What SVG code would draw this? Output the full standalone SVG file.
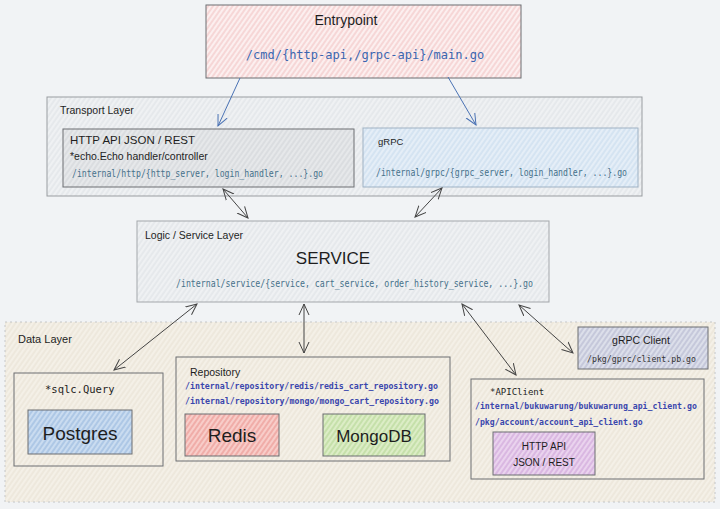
<svg xmlns="http://www.w3.org/2000/svg" width="720" height="509" viewBox="0 0 720 509">
<defs>
<pattern id="hPink" width="4" height="4" patternUnits="userSpaceOnUse" patternTransform="rotate(-55)"><rect width="4" height="4" fill="#fcefef"/><line x1="0" y1="2" x2="4" y2="2" stroke="#eeb2b2" stroke-width="0.8"/></pattern>
<pattern id="hGray" width="4" height="4" patternUnits="userSpaceOnUse" patternTransform="rotate(-55)"><rect width="4" height="4" fill="#eff1f3"/><line x1="0" y1="2" x2="4" y2="2" stroke="#d8dbe0" stroke-width="0.8"/></pattern>
<pattern id="hDark" width="4" height="4" patternUnits="userSpaceOnUse" patternTransform="rotate(-55)"><rect width="4" height="4" fill="#e6e8ea"/><line x1="0" y1="2" x2="4" y2="2" stroke="#c9cdd2" stroke-width="0.8"/></pattern>
<pattern id="hBlue" width="4" height="4" patternUnits="userSpaceOnUse" patternTransform="rotate(-55)"><rect width="4" height="4" fill="#e5eef7"/><line x1="0" y1="2" x2="4" y2="2" stroke="#bcd3ea" stroke-width="0.8"/></pattern>
<pattern id="hBeige" width="4" height="4" patternUnits="userSpaceOnUse" patternTransform="rotate(-55)"><rect width="4" height="4" fill="#f4f0e7"/><line x1="0" y1="2" x2="4" y2="2" stroke="#e4dccb" stroke-width="0.8"/></pattern>
<pattern id="hPg" width="4" height="4" patternUnits="userSpaceOnUse" patternTransform="rotate(-55)"><rect width="4" height="4" fill="#cadcf0"/><line x1="0" y1="2" x2="4" y2="2" stroke="#8aaed8" stroke-width="0.9"/></pattern>
<pattern id="hRed" width="4" height="4" patternUnits="userSpaceOnUse" patternTransform="rotate(-55)"><rect width="4" height="4" fill="#f8cdc9"/><line x1="0" y1="2" x2="4" y2="2" stroke="#e68680" stroke-width="0.9"/></pattern>
<pattern id="hGreen" width="4" height="4" patternUnits="userSpaceOnUse" patternTransform="rotate(-55)"><rect width="4" height="4" fill="#dcedc6"/><line x1="0" y1="2" x2="4" y2="2" stroke="#a9d088" stroke-width="0.9"/></pattern>
<pattern id="hSlate" width="4" height="4" patternUnits="userSpaceOnUse" patternTransform="rotate(-55)"><rect width="4" height="4" fill="#dcdfea"/><line x1="0" y1="2" x2="4" y2="2" stroke="#a9adc8" stroke-width="0.9"/></pattern>
<pattern id="hPurple" width="4" height="4" patternUnits="userSpaceOnUse" patternTransform="rotate(-55)"><rect width="4" height="4" fill="#ead3ee"/><line x1="0" y1="2" x2="4" y2="2" stroke="#c695d1" stroke-width="0.9"/></pattern>
<marker id="aBlue" viewBox="0 0 12 12" refX="11" refY="6" markerWidth="12" markerHeight="12" markerUnits="userSpaceOnUse" orient="auto-start-reverse"><path d="M0,1 L11,6 L0,11" fill="none" stroke="#4a72b4" stroke-width="1"/></marker>
<marker id="aDark" viewBox="0 0 12 12" refX="11" refY="6" markerWidth="12" markerHeight="12" markerUnits="userSpaceOnUse" orient="auto-start-reverse"><path d="M0,1 L11,6 L0,11" fill="none" stroke="#444" stroke-width="1"/></marker>
</defs>
<style>
.box{stroke:#6d6f73;stroke-width:1}
.hand{font-family:"Liberation Sans","DejaVu Sans",sans-serif;fill:#1e1e1e}
.mono{font-family:"DejaVu Sans Mono","Liberation Mono",monospace}
.path1{fill:#3b66b0}
.path2{fill:#46718a}
.path3{fill:#3a46ad}
.conn{fill:none;stroke:#444;stroke-width:1}
.connB{fill:none;stroke:#4a72b4;stroke-width:1}
</style>
<rect width="720" height="509" fill="#f1f3f5"/>

<g id="data-layer">
<rect x="5" y="322" width="710" height="180" fill="url(#hBeige)" stroke="#c4c6c8" stroke-width="1" stroke-dasharray="2 3"/>
<text class="hand" x="18" y="343" font-size="11">Data Layer</text>
</g>

<g id="entrypoint">
<rect class="box" x="206" y="5" width="315" height="73" fill="url(#hPink)"/>
<text class="hand" x="346" y="25" font-size="14" text-anchor="middle">Entrypoint</text>
<text class="mono path1" x="365" y="59" font-size="12" text-anchor="middle">/cmd/{http-api,/grpc-api}/main.go</text>
</g>

<g id="transport-layer">
<rect x="47" y="97" width="595" height="99" fill="url(#hGray)" stroke="#9a9da1" stroke-width="1"/>
<text class="hand" x="60" y="114" font-size="10.5">Transport Layer</text>
</g>

<g id="http-api">
<rect class="box" x="63" y="129" width="291" height="58" fill="url(#hDark)" stroke="#4a4a4a"/>
<text class="hand" x="70" y="144" font-size="11.5">HTTP API JSON / REST</text>
<text class="hand" x="70" y="160" font-size="10.5">*echo.Echo handler/controller</text>
<text class="mono path2" x="72" y="177" font-size="10" textLength="251" lengthAdjust="spacingAndGlyphs">/internal/http/{http_server, login_handler, ...}.go</text>
</g>

<g id="grpc">
<rect x="363" y="128" width="275" height="59" fill="url(#hBlue)" stroke="#9fb2c4" stroke-width="1"/>
<text class="hand" x="378" y="145" font-size="9.5">gRPC</text>
<text class="mono path2" x="376" y="176" font-size="10" textLength="251" lengthAdjust="spacingAndGlyphs">/internal/grpc/{grpc_server, login_handler, ...}.go</text>
</g>

<g id="service">
<rect x="137" y="221" width="412" height="81" fill="url(#hGray)" stroke="#a4a7ab" stroke-width="1"/>
<text class="hand" x="145" y="239" font-size="10.5">Logic / Service Layer</text>
<text class="hand" x="333" y="264" font-size="17" text-anchor="middle">SERVICE</text>
<text class="mono path2" x="176" y="287" font-size="10" textLength="357" lengthAdjust="spacingAndGlyphs">/internal/service/{service, cart_service, order_history_service, ...}.go</text>
</g>

<g id="sqlc">
<rect class="box" x="14" y="373" width="149" height="93" fill="url(#hBeige)"/>
<text class="mono" x="45" y="393" font-size="10.5" fill="#1e1e1e">*sqlc.Query</text>
</g>

<g id="postgres">
<rect class="box" x="28" y="410" width="104" height="44" fill="url(#hPg)" stroke="#555"/>
<text class="hand" x="80" y="440" font-size="19" text-anchor="middle">Postgres</text>
</g>

<g id="repository">
<rect class="box" x="176" y="357" width="274" height="104" fill="url(#hBeige)"/>
<text class="hand" x="190" y="376" font-size="10.5">Repository</text>
<text class="mono path3" x="185" y="389" font-size="9.5" textLength="253" lengthAdjust="spacingAndGlyphs" font-weight="bold">/internal/repository/redis/redis_cart_repository.go</text>
<text class="mono path3" x="185" y="404" font-size="9.5" textLength="254" lengthAdjust="spacingAndGlyphs" font-weight="bold">/internal/repository/mongo/mongo_cart_repository.go</text>
</g>

<g id="redis">
<rect class="box" x="185" y="414" width="94" height="42" fill="url(#hRed)"/>
<text class="hand" x="232" y="442" font-size="19" text-anchor="middle">Redis</text>
</g>

<g id="mongodb">
<rect class="box" x="323" y="414" width="102" height="42" fill="url(#hGreen)"/>
<text class="hand" x="374" y="442" font-size="17" text-anchor="middle">MongoDB</text>
</g>

<g id="grpc-client">
<rect class="box" x="578" y="327" width="130" height="42" fill="url(#hSlate)"/>
<text class="hand" x="641" y="344" font-size="10.5" text-anchor="middle">gRPC Client</text>
<text class="mono" x="587" y="362" font-size="9.5" textLength="109" lengthAdjust="spacingAndGlyphs" fill="#333">/pkg/gprc/client.pb.go</text>
</g>

<g id="api-client">
<rect class="box" x="471" y="379" width="233" height="100" fill="url(#hBeige)"/>
<text class="mono" x="490" y="395" font-size="9" fill="#1e1e1e">*APIClient</text>
<text class="mono path3" x="475" y="409" font-size="8.2" font-weight="bold">/internal/bukuwarung/bukuwarung_api_client.go</text>
<text class="mono path3" x="475" y="425" font-size="8.2" font-weight="bold">/pkg/account/account_api_client.go</text>
</g>

<g id="http-api-client">
<rect class="box" x="493" y="432" width="102" height="43" fill="url(#hPurple)"/>
<text class="hand" x="544" y="450" font-size="10" text-anchor="middle">HTTP API</text>
<text class="hand" x="544" y="466" font-size="10" text-anchor="middle">JSON / REST</text>
</g>

<g id="connectors">
<line class="connB" x1="240" y1="78" x2="218" y2="126" marker-end="url(#aBlue)"/>
<line class="connB" x1="448" y1="77" x2="476" y2="125" marker-end="url(#aBlue)"/>
<line class="conn" x1="223" y1="189" x2="248" y2="218" marker-start="url(#aDark)" marker-end="url(#aDark)"/>
<line class="conn" x1="442" y1="188" x2="415" y2="217" marker-start="url(#aDark)" marker-end="url(#aDark)"/>
<line class="conn" x1="197" y1="304" x2="114" y2="370" marker-start="url(#aDark)" marker-end="url(#aDark)"/>
<line class="conn" x1="304" y1="304" x2="304" y2="353" marker-start="url(#aDark)" marker-end="url(#aDark)"/>
<line class="conn" x1="462" y1="304" x2="516" y2="375" marker-start="url(#aDark)" marker-end="url(#aDark)"/>
<line class="conn" x1="519" y1="305" x2="573" y2="353" marker-start="url(#aDark)" marker-end="url(#aDark)"/>
</g>
</svg>
